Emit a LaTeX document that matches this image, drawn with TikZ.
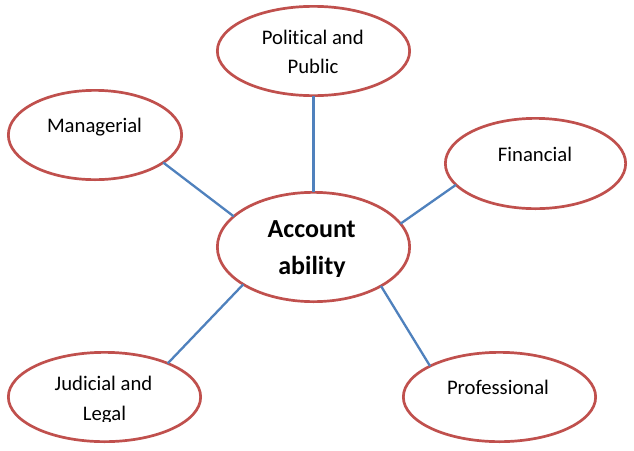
\documentclass[tikz,border=0pt]{standalone}
\usepackage{fontspec}
\setmainfont{Carlito}[Ligatures={NoCommon}]
\usetikzlibrary{shapes.geometric}
\definecolor{ellred}{HTML}{C0504D}
\definecolor{linkblue}{HTML}{4F81BD}
\begin{document}
\begin{tikzpicture}[x=1pt,y=-1pt,
  bubble/.style={ellipse,draw=ellred,line width=2.7pt,fill=white,inner sep=0pt,outer sep=0pt},
  link/.style={draw=linkblue,line width=2.3pt},
  lbl/.style={anchor=base,inner sep=0pt,font=\fontsize{20.7}{25}\selectfont},
  biglbl/.style={anchor=base,inner sep=0pt,font=\fontsize{26}{31}\selectfont\bfseries}]
\useasboundingbox (0,0) rectangle (634,450);
\fill[white] (0,0) rectangle (634,450);
% ellipses
\node[bubble,minimum width=192.3pt,minimum height=89.3pt] (pol) at (313.5,51) {};
\node[bubble,minimum width=173.3pt,minimum height=89.3pt] (man) at (95,135) {};
\node[bubble,minimum width=180.3pt,minimum height=90.3pt] (fin) at (535.5,163.5) {};
\node[bubble,minimum width=192.3pt,minimum height=109.3pt] (acc) at (313.5,247) {};
\node[bubble,minimum width=192.3pt,minimum height=89.3pt] (jud) at (104.5,397) {};
\node[bubble,minimum width=192.3pt,minimum height=89.3pt] (pro) at (499.5,397) {};
% connectors
\draw[link] (man.-22.8) -- (acc.159.3);
\draw[link] (pol.south) -- (acc.north);
\draw[link] (fin.-165.7) -- (acc.15.3);
\draw[link] (jud.28.9) -- (acc.-152.3);
\draw[link] (pro.156.4) -- (acc.-30.2);
% labels
\node[lbl] (polA) at (312.8,44.3) {Political and};
\node[lbl] (polB) at (313,73.3) {Public};
\node[lbl] (manA) at (94.5,132.3) {Managerial};
\node[lbl] (finA) at (535,161) {Financial};
\node[lbl] (jud1) at (103.5,390) {Judicial and};
\begin{scope}
  \clip (0,300) rectangle (634,421);
  \node[lbl] (jud2) at (104.5,420) {Legal};
\end{scope}
\node[lbl] (proA) at (498,394) {Professional};
\node[biglbl] (acc1) at (311.7,237) {Account};
\begin{scope}
  \clip (0,200) rectangle (634,276.5);
  \node[biglbl] (acc2) at (312,274) {ability};
\end{scope}
\end{tikzpicture}
\end{document}
